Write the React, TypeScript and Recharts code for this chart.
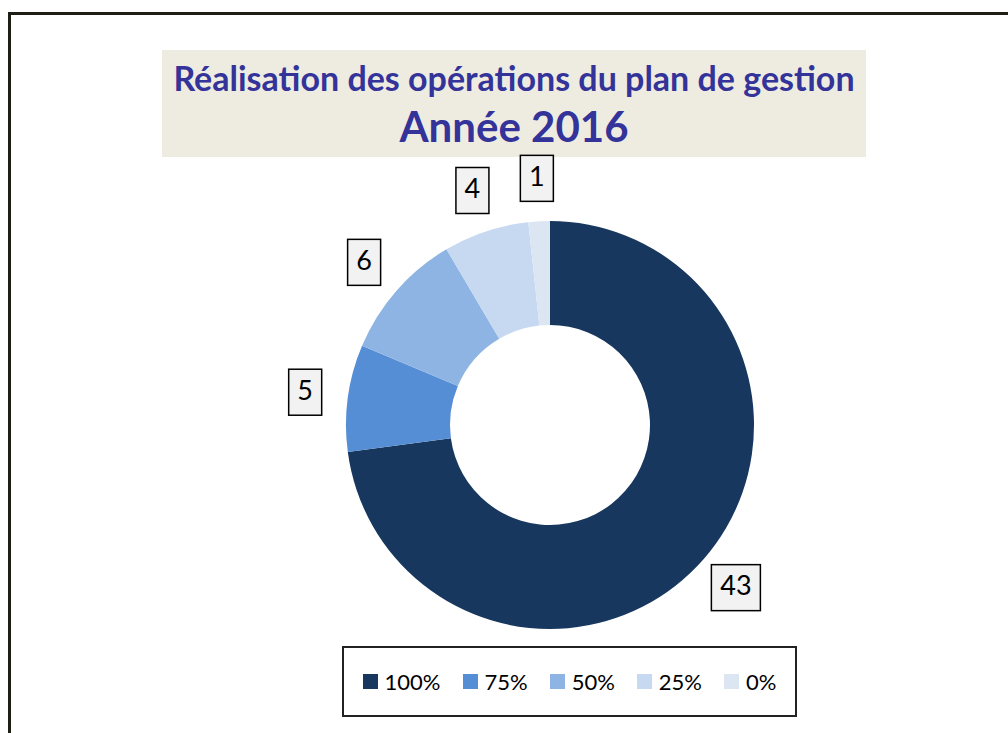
import { PieChart, Pie, Cell, Legend } from 'recharts';

const categories = ['100%', '75%', '50%', '25%', '0%'];
const counts = [43, 5, 6, 4, 1];
const colors = ['#17375E', '#558ED5', '#8EB4E3', '#C6D9F1', '#DCE6F2'];

const titleLine1 = 'Réalisation des opérations du plan de gestion';
const titleLine2 = 'Année 2016';

const data = categories.map((name, i) => ({ name, value: counts[i] }));

const FONT = 'Lato, "Open Sans", sans-serif';
const RADIAN = Math.PI / 180;

const renderLabel = (props: any) => {
   const { cx, cy, midAngle, outerRadius, value } = props;
   const r = outerRadius + 43;
   const x = cx + r * Math.cos(-midAngle * RADIAN);
   const y = cy + r * Math.sin(-midAngle * RADIAN);
   const txt = String(value);
   const w = 16 * txt.length + 17;
   const h = 46;
   return (
      <g>
         <rect
            x={x - w / 2}
            y={y - h / 2}
            width={w}
            height={h}
            fill="#F2F2F2"
            stroke="#000"
            strokeWidth={1.5}
         />
         <text
            x={x}
            y={y + 1}
            textAnchor="middle"
            dominantBaseline="middle"
            fontFamily={FONT}
            fontSize={27}
            fill="#000"
         >
            {txt}
         </text>
      </g>
   );
};

const renderLegend = () => (
   <div
      style={{
         boxSizing: 'border-box',
         width: 455,
         height: 71,
         border: '2px solid #222',
         display: 'flex',
         alignItems: 'center',
         justifyContent: 'center',
         gap: 22,
         fontFamily: FONT,
         fontSize: 22,
         color: '#000',
         background: '#fff',
      }}
   >
      {categories.map((c, i) => (
         <div key={c} style={{ display: 'flex', alignItems: 'center' }}>
            <span
               style={{
                  display: 'inline-block',
                  width: 15,
                  height: 15,
                  background: colors[i],
                  marginRight: 7,
               }}
            />
            <span>{c}</span>
         </div>
      ))}
   </div>
);

export default function App() {
   return (
      <div
         style={{
            position: 'fixed',
            left: 0,
            top: 0,
            width: 1008,
            height: 733,
            overflow: 'hidden',
            background: '#fff',
         }}
      >
         <div
            style={{
               position: 'absolute',
               left: 8,
               top: 12,
               width: 1100,
               height: 800,
               border: '3px solid #1E1E14',
            }}
         />
         <div
            style={{
               position: 'absolute',
               left: 162,
               top: 50,
               width: 704,
               height: 107,
               background: '#EEECE1',
               color: '#333399',
               fontFamily: FONT,
               fontWeight: 700,
               textAlign: 'center',
               whiteSpace: 'nowrap',
            }}
         >
            <div style={{ fontSize: 34, lineHeight: '36px', marginTop: 10 }}>
               {titleLine1}
            </div>
            <div style={{ fontSize: 42, lineHeight: '48px', marginTop: 6 }}>
               {titleLine2}
            </div>
         </div>
         <div style={{ position: 'absolute', left: 0, top: 0 }}>
            <PieChart width={1008} height={733} margin={{ top: 0, right: 0, bottom: 0, left: 0 }}>
               <Pie
                  data={data}
                  dataKey="value"
                  nameKey="name"
                  cx={550}
                  cy={425}
                  innerRadius={100}
                  outerRadius={204}
                  startAngle={90}
                  endAngle={-270}
                  stroke="none"
                  label={renderLabel}
                  labelLine={false}
                  isAnimationActive={false}
               >
                  {data.map((d, i) => (
                     <Cell key={d.name} fill={colors[i]} />
                  ))}
               </Pie>
               <Legend
                  content={renderLegend}
                  wrapperStyle={{ left: 342, top: 646, width: 455, height: 71 }}
               />
            </PieChart>
         </div>
      </div>
   );
}
